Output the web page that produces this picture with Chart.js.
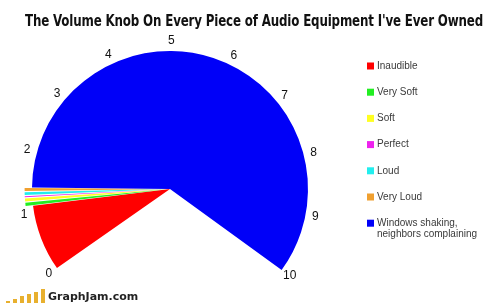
<!DOCTYPE html>
<html>
<head>
<meta charset="utf-8">
<script src="https://cdn.jsdelivr.net/npm/chart.js@4.4.1/dist/chart.umd.min.js"></script>
<style>
  html, body { margin: 0; padding: 0; background: #fff; }
  #wrap { position: relative; width: 500px; height: 303px; overflow: hidden; }
  #title {
    position: absolute; left: 25px; top: 11px; transform-origin: 0 0;
    font: bold 16px "DejaVu Sans Condensed", "DejaVu Sans", sans-serif;
    color: #111; white-space: nowrap; letter-spacing: -0.2px;
  }
  #chart { position: absolute; left: 0; top: 0; }
  #logo { position: absolute; left: 4px; top: 287px; height: 16px; width: 160px; }
  #logo .bar { position: absolute; bottom: 0; width: 4px; background: #e8b02e; }
  #logo .txt {
    position: absolute; left: 44px; top: 3px;
    font: bold 11px "DejaVu Sans", sans-serif; color: #222;
  }
</style>
</head>
<body>
<div id="wrap">
  <canvas id="chart" width="500" height="303"></canvas>
  <div id="title">The Volume Knob On Every Piece of Audio Equipment I've Ever Owned</div>
  <div id="logo">
    <div class="bar" style="left:2px;height:2px"></div>
    <div class="bar" style="left:9px;height:4px"></div>
    <div class="bar" style="left:16px;height:7px"></div>
    <div class="bar" style="left:23px;height:9px"></div>
    <div class="bar" style="left:30px;height:11px"></div>
    <div class="bar" style="left:37px;height:14px"></div>
    <div class="txt">GraphJam.com</div>
  </div>
</div>
<script>
  "use strict";

  // slices, in degrees of the knob sweep
  var categories = ["Inaudible", "Very Soft", "Soft", "Perfect", "Loud", "Very Loud",
    ["Windows shaking,", "neighbors complaining"]];
  var values = [28, 1.8, 1.7, 0.9, 1.5, 1.7, 215.4];
  var colors = ["#ff0000", "#22ee22", "#ffff22", "#ee22ee", "#22eeee", "#f0a030", "#0000f8"];
  var sliceOffsets = [0, 15, 15, 15, 15, 15, 0];
  var knobTicks = ["0", "1", "2", "3", "4", "5", "6", "7", "8", "9", "10"];

  var ROTATION = 235;
  var SWEEP = 251;

  // squeeze the title into the width it has in the original (x 25..483)
  (function () {
    var t = document.getElementById("title");
    var w = t.getBoundingClientRect().width;
    t.style.transform = "scaleX(" + (458 / w) + ")";
  })();

  // numbers 0..10 around the knob
  var knobLabels = {
    id: "knobLabels",
    afterDraw: function (chart) {
      var arc = chart.getDatasetMeta(0).data[0];
      if (!arc) return;
      var ctx = chart.ctx;
      var r = arc.outerRadius + 10;
      ctx.save();
      ctx.font = "12px 'Liberation Sans', Arial, sans-serif";
      ctx.fillStyle = "#111";
      ctx.textAlign = "center";
      ctx.textBaseline = "middle";
      knobTicks.forEach(function (t, i) {
        var a = (ROTATION - 90 + i * SWEEP / (knobTicks.length - 1)) * Math.PI / 180;
        ctx.fillText(t, arc.x + Math.cos(a) * r, arc.y + Math.sin(a) * r);
      });
      ctx.restore();
    }
  };

  var sideLegend = {
    id: "sideLegend",
    afterDraw: function (chart) {
      var ctx = chart.ctx;
      ctx.save();
      ctx.font = "10px 'Liberation Sans', Arial, sans-serif";
      ctx.textBaseline = "middle";
      categories.forEach(function (c, i) {
        var y = 66 + i * 26.2;
        ctx.fillStyle = colors[i];
        ctx.fillRect(367, y - 3.5, 7, 7);
        ctx.fillStyle = "#3a3a3a";
        var lines = Array.isArray(c) ? c : [c];
        lines.forEach(function (ln, j) {
          ctx.fillText(ln, 377, y + j * 11);
        });
      });
      ctx.restore();
    }
  };

  new Chart(document.getElementById("chart"), {
    type: "pie",
    data: {
      labels: categories.map(function (c) { return Array.isArray(c) ? c.join(" ") : c; }),
      datasets: [{
        data: values,
        backgroundColor: colors,
        borderWidth: 0,
        offset: sliceOffsets
      }]
    },
    options: {
      responsive: false,
      animation: false,
      rotation: ROTATION,
      circumference: SWEEP,
      radius: 138,
      layout: { padding: { left: 0, right: 160, top: 18, bottom: 0 } },
      plugins: {
        legend: { display: false },
        tooltip: { enabled: false }
      }
    },
    plugins: [knobLabels, sideLegend]
  });
</script>
</body>
</html>
